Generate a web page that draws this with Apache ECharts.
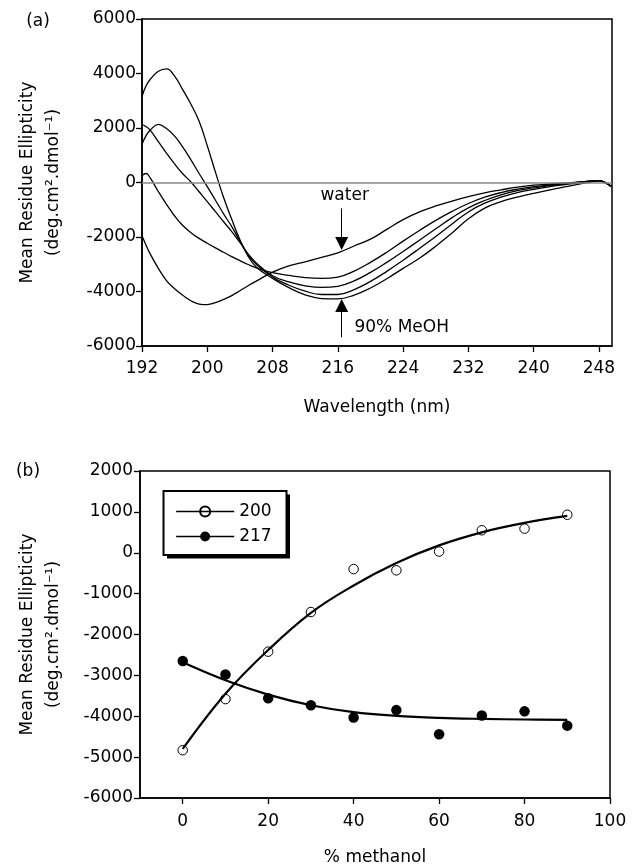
<!DOCTYPE html>
<html>
<head>
<meta charset="utf-8">
<script src="https://cdn.jsdelivr.net/npm/echarts@6/dist/echarts.min.js"></script>
<style>html,body{margin:0;padding:0;background:#fff}#c{width:632px;height:865px}</style>
</head>
<body>
<div id="c"></div>
<script>
// ---------- Panel (a): CD spectra ----------
const wavelength = [192,192.5,193,194,195,196,197,198,199,200,201,202,203,204,205,206,208,210,212,214,216,218,220,222,224,226,228,230,232,234,236,238,240,242,244,246,247,248,249,249.5];
const specWater = [-1950,-2300,-2620,-3150,-3600,-3900,-4140,-4340,-4460,-4480,-4410,-4290,-4150,-3970,-3790,-3620,-3290,-3060,-2910,-2750,-2580,-2330,-2080,-1720,-1360,-1080,-860,-680,-520,-380,-270,-170,-100,-55,-15,30,55,70,-40,-150];
const specB = [260,330,170,-330,-800,-1230,-1580,-1840,-2050,-2230,-2400,-2560,-2720,-2870,-3010,-3130,-3310,-3410,-3490,-3520,-3470,-3250,-2930,-2560,-2150,-1760,-1390,-1060,-770,-540,-370,-245,-155,-85,-35,25,50,70,-40,-150];
const specC = [2120,2050,1920,1500,1080,680,320,20,-340,-700,-1070,-1440,-1800,-2200,-2620,-2950,-3420,-3650,-3790,-3850,-3810,-3610,-3300,-2930,-2530,-2120,-1700,-1290,-930,-660,-450,-300,-200,-115,-50,20,48,70,-40,-150];
const specD = [1400,1720,1920,2130,1980,1700,1300,830,330,-150,-650,-1150,-1620,-2150,-2650,-3000,-3470,-3770,-3990,-4110,-4110,-3930,-3630,-3260,-2850,-2420,-1980,-1520,-1080,-760,-540,-370,-255,-150,-70,10,45,70,-40,-150];
const specMeOH = [3150,3550,3780,4080,4170,3900,3400,2870,2250,1350,380,-550,-1350,-2100,-2700,-3100,-3520,-3860,-4120,-4260,-4270,-4130,-3870,-3530,-3150,-2780,-2340,-1850,-1330,-940,-700,-540,-400,-270,-150,-30,20,60,-40,-150];
const wlTicks = [192,200,208,216,224,232,240,248];

// ---------- Panel (b): ellipticity vs % methanol ----------
const methanol = [0,10,20,30,40,50,60,70,80,90];
const at200 = [-4830,-3580,-2420,-1450,-400,-430,30,550,590,930];
const at217 = [-2650,-2980,-3560,-3730,-4030,-3850,-4440,-3980,-3880,-4230];
const fit200 = [-4800,-3450,-2380,-1470,-800,-250,180,500,730,900];
const fit217 = [-2680,-3120,-3470,-3730,-3900,-3990,-4040,-4065,-4080,-4090];
const pctTicks = [0,20,40,60,80,100];

const FONT = 'DejaVu Sans';
const pairs = (xs, ys) => xs.map((x, i) => [x, ys[i]]);
const plain = v => String(v);

function curve(ys, extra) {
  return Object.assign({
    type: 'line', xAxisIndex: 0, yAxisIndex: 0, data: pairs(wavelength, ys),
    showSymbol: false, symbol: 'none', smooth: 0.45, silent: true,
    lineStyle: {color: '#000', width: 1.3}, z: 3
  }, extra || {});
}

const axisCommon = {
  axisLine: {onZero: false, lineStyle: {color: '#000', width: 1.6}},
  axisTick: {show: true, length: 6, lineStyle: {color: '#000', width: 1.3}},
  splitLine: {show: false},
  axisLabel: {color: '#000', fontSize: 17, fontFamily: FONT, formatter: plain},
  nameTextStyle: {color: '#000', fontSize: 17, fontFamily: FONT}
};

const yName = 'Mean Residue Ellipticity\n(deg.cm\u00B2.dmol\u207B\u00B9)';

const option = {
  animation: false,
  backgroundColor: '#fff',
  textStyle: {fontFamily: FONT},
  grid: [
    {left: 142, top: 19, width: 470, height: 327, show: true, borderColor: '#000', borderWidth: 1.5, backgroundColor: 'transparent', outerBoundsMode: 'none'},
    {left: 140, top: 471, width: 470, height: 327, show: true, borderColor: '#000', borderWidth: 1.5, backgroundColor: 'transparent', outerBoundsMode: 'none'}
  ],
  xAxis: [
    Object.assign({}, axisCommon, {
      type: 'value', gridIndex: 0, min: 192, max: 249.6, interval: 8,
      axisTick: Object.assign({}, axisCommon.axisTick, {customValues: wlTicks}),
      axisLabel: Object.assign({}, axisCommon.axisLabel, {customValues: wlTicks, margin: 14}),
      name: 'Wavelength (nm)', nameLocation: 'middle', nameGap: 53
    }),
    Object.assign({}, axisCommon, {
      type: 'value', gridIndex: 1, min: -10, max: 100,
      axisTick: Object.assign({}, axisCommon.axisTick, {customValues: pctTicks}),
      axisLabel: Object.assign({}, axisCommon.axisLabel, {customValues: pctTicks, margin: 15}),
      name: '% methanol', nameLocation: 'middle', nameGap: 51
    })
  ],
  yAxis: [
    Object.assign({}, axisCommon, {
      type: 'value', gridIndex: 0, min: -6000, max: 6000, interval: 2000,
      axisLabel: Object.assign({}, axisCommon.axisLabel, {margin: 6}),
      name: yName, nameLocation: 'middle', nameRotate: 90, nameGap: 75,
      nameTextStyle: {color: '#000', fontSize: 17, fontFamily: FONT, lineHeight: 26}
    }),
    Object.assign({}, axisCommon, {
      type: 'value', gridIndex: 1, min: -6000, max: 2000, interval: 1000,
      axisLabel: Object.assign({}, axisCommon.axisLabel, {margin: 7}),
      name: yName, nameLocation: 'middle', nameRotate: 90, nameGap: 73,
      nameTextStyle: {color: '#000', fontSize: 17, fontFamily: FONT, lineHeight: 26}
    })
  ],
  legend: {
    data: ['200', '217'], orient: 'vertical', left: 163, top: 491,
    padding: [12, 14, 12, 12.5], itemGap: 8, itemWidth: 58, itemHeight: 12.5,
    backgroundColor: 'transparent', borderWidth: 0,
    textStyle: {color: '#000', fontSize: 17, fontFamily: FONT},
    lineStyle: {color: '#000', width: 1.3, opacity: 1},
    selectedMode: false, z: 10
  },
  series: [
    curve(specWater, {
      markLine: {
        silent: true, symbol: 'none', label: {show: false},
        lineStyle: {color: '#888', width: 1.6, type: 'solid'},
        data: [{yAxis: 0}]
      }
    }),
    curve(specB), curve(specC), curve(specD), curve(specMeOH),
    // annotation arrows
    {
      type: 'line', xAxisIndex: 0, yAxisIndex: 0, data: [], silent: true,
      markLine: {
        silent: true, symbol: ['none', 'triangle'], symbolSize: 13,
        label: {show: false},
        lineStyle: {color: '#000', width: 1, type: 'solid'},
        data: [
          [{coord: [216.47, -950]}, {coord: [216.47, -2240]}],
          [{coord: [216.47, -5680]}, {coord: [216.47, -4510]}]
        ]
      }
    },
    {
      type: 'scatter', xAxisIndex: 0, yAxisIndex: 0, symbolSize: 1, silent: true,
      itemStyle: {color: 'rgba(0,0,0,0)'},
      data: [{value: [216.9, -480], name: 'water', label: {align: 'center'}},
             {value: [218.1, -5360], name: '90% MeOH', label: {align: 'left'}}],
      label: {show: true, position: [0, 0], verticalAlign: 'middle', formatter: '{b}', color: '#000', opacity: 1, textBorderWidth: 0, fontSize: 17, fontFamily: FONT}
    },
    // panel (b)
    {
      name: 'fit200', type: 'line', xAxisIndex: 1, yAxisIndex: 1, data: pairs(methanol, fit200),
      showSymbol: false, symbol: 'none', smooth: 0.4, silent: true,
      lineStyle: {color: '#000', width: 2.2}, z: 2
    },
    {
      name: 'fit217', type: 'line', xAxisIndex: 1, yAxisIndex: 1, data: pairs(methanol, fit217),
      showSymbol: false, symbol: 'none', smooth: 0.4, silent: true,
      lineStyle: {color: '#000', width: 2.2}, z: 2
    },
    {
      name: '200', type: 'line', xAxisIndex: 1, yAxisIndex: 1, data: pairs(methanol, at200),
      symbol: 'circle', symbolSize: 9.5, showSymbol: true, silent: true,
      lineStyle: {opacity: 0},
      itemStyle: {color: 'rgba(255,255,255,0)', borderColor: '#000', borderWidth: 1}, z: 3
    },
    {
      name: '217', type: 'line', xAxisIndex: 1, yAxisIndex: 1, data: pairs(methanol, at217),
      symbol: 'circle', symbolSize: 10.5, showSymbol: true, silent: true,
      lineStyle: {opacity: 0},
      itemStyle: {color: '#000', borderColor: '#000', borderWidth: 0}, z: 3
    }
  ],
  graphic: [
    {type: 'text', x: 38, y: 22, style: {text: '(a)', fill: '#000', font: '17px "DejaVu Sans"', align: 'center', verticalAlign: 'middle'}},
    {type: 'text', x: 28, y: 472, style: {text: '(b)', fill: '#000', font: '17px "DejaVu Sans"', align: 'center', verticalAlign: 'middle'}},
    // legend frame with drop shadow
    {type: 'rect', z: 5, silent: true, shape: {x: 167, y: 494.5, width: 123, height: 64}, style: {fill: '#000'}},
    {type: 'rect', z: 6, silent: true, shape: {x: 163.5, y: 491, width: 123, height: 64}, style: {fill: '#fff', stroke: '#000', lineWidth: 2}}
  ]
};

const chart = echarts.init(document.getElementById('c'), null, {renderer: 'canvas'});
chart.setOption(option);
</script>
</body>
</html>
